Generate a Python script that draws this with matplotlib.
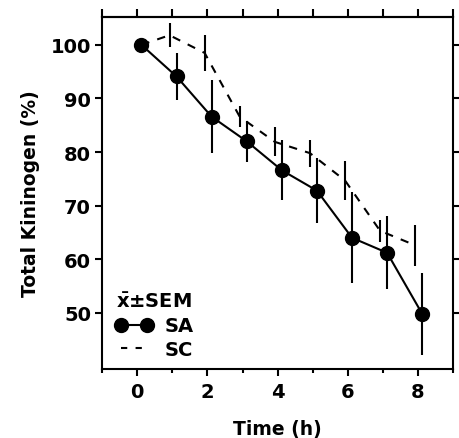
import numpy as np
import matplotlib
matplotlib.use("Agg")
import matplotlib.pyplot as plt
from matplotlib.lines import Line2D

# data (percent of initial total kininogen)
time_h = [0, 1, 2, 3, 4, 5, 6, 7, 8]
sa_mean = [100, 94.1, 86.6, 82.0, 76.6, 72.8, 64.0, 61.2, 49.8]
sa_sem = [0, 4.3, 6.8, 3.8, 5.6, 6.1, 8.5, 6.8, 7.7]
sc_mean = [100, 101.8, 98.5, 86.6, 81.9, 79.8, 74.7, 65.3, 62.6]
sc_sem = [0, 2.2, 3.3, 2.0, 2.7, 2.5, 3.7, 2.0, 3.8]

plt.rcParams['font.family'] = ['DejaVu Sans']
plt.rcParams['font.weight'] = 'bold'
plt.rcParams['axes.labelweight'] = 'bold'
plt.rcParams['mathtext.fontset'] = 'dejavusans'
plt.rcParams['mathtext.default'] = 'bf'

fig = plt.figure(figsize=(4.6, 4.39), dpi=100)
ax = fig.add_axes([0.222, 0.157, 0.763, 0.802])

# points are drawn slightly apart so the bars don't overlap
t = np.array(time_h, dtype=float)
sc_t = t - 0.08
sc_t[0] = t[0] + 0.12
sa_t = t + 0.12

# SC: dashed line, plain bars
ax.errorbar(sc_t, sc_mean, yerr=sc_sem, fmt='none', ecolor='black',
            elinewidth=1.5, capsize=0)
sc_line, = ax.plot(sc_t, sc_mean, color='black', lw=1.5, dashes=(4, 4))

# SA: solid line with filled circles
ax.errorbar(sa_t, sa_mean, yerr=sa_sem, fmt='none', ecolor='black',
            elinewidth=1.5, capsize=0)
sa_line, = ax.plot(sa_t, sa_mean, color='black', lw=1.5, marker='o',
                   markersize=10, zorder=5)

ax.set_xlim(-1, 9)
ax.set_ylim(39.5, 105.2)

ax.set_xticks([0, 2, 4, 6, 8])
ax.set_xticks([-1, 1, 3, 5, 7, 9], minor=True)
ax.set_yticks([50, 60, 70, 80, 90, 100])
ax.tick_params(axis='x', which='major', direction='out', length=5, width=1.5,
               labelsize=14, pad=4, top=False)
ax.tick_params(axis='x', which='minor', direction='out', length=3, width=1.5)
ax.tick_params(axis='y', direction='out', length=5, width=1.5, labelsize=14,
               right=True, pad=3)

# top axis ticks at every hour
top = ax.secondary_xaxis('top')
top.set_xticks(range(-1, 10))
top.tick_params(direction='out', length=6, width=1.5, labeltop=False)
top.spines['top'].set_linewidth(1.5)

for s in ax.spines.values():
    s.set_linewidth(1.5)

ax.set_xlabel('Time (h)', fontsize=13.5, labelpad=13)
ax.set_ylabel('Total Kininogen (%)', fontsize=13.5, labelpad=8)

handles = [sa_line, Line2D([], [], color='black', lw=1.5, dashes=(3, 4))]
leg = ax.legend(handles, ['SA', 'SC'], title=r'$\bar{\mathbf{x}}$±SEM',
                loc='lower left', bbox_to_anchor=(0.005, -0.005),
                frameon=False, numpoints=2, handlelength=1.9,
                handletextpad=0.6, fontsize=14, title_fontsize=14,
                alignment='left', borderaxespad=0.2, labelspacing=0.25)
leg.get_title().set_fontweight('bold')

fig.savefig('out.png', dpi=100)
